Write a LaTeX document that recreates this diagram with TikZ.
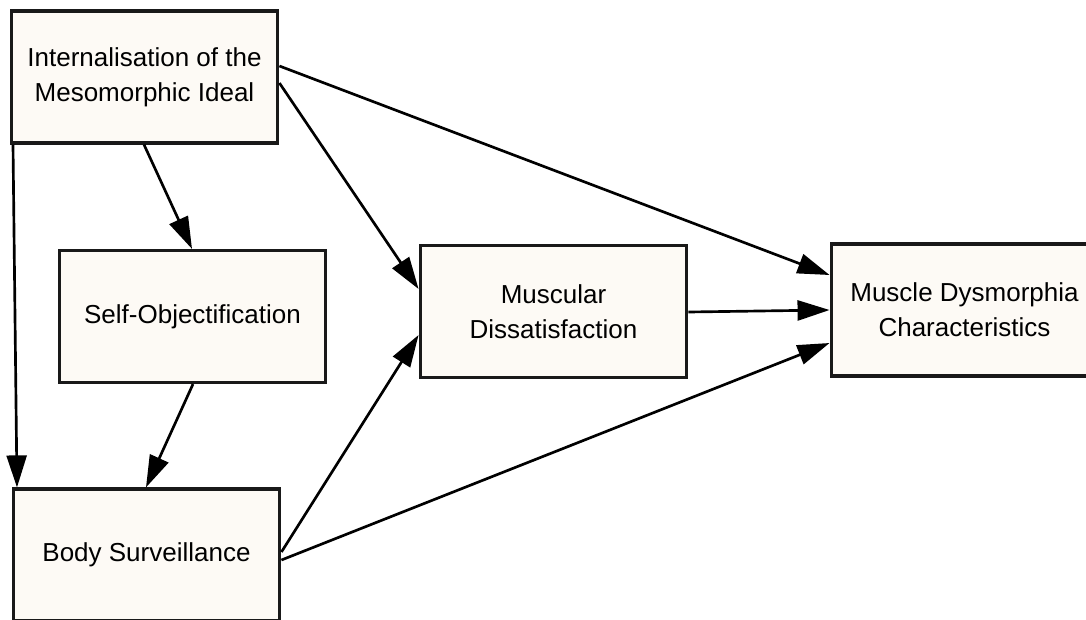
\documentclass[tikz,border=0pt]{standalone}
\usepackage{fontspec}
\setmainfont{Liberation Sans}
\usetikzlibrary{arrows.meta}

\definecolor{boxfill}{RGB}{253,250,245}

\begin{document}
\begin{tikzpicture}[x=0.75pt,y=-0.75pt,
    >={Triangle[length=24pt,width=15pt]},
    box/.style={
      % The shape:
      rectangle,minimum width=200pt,minimum height=99pt,
      % Border and text
      line width=2.4pt,draw=black!90,fill=boxfill,
      align=center,font=\fontsize{19.5}{26.5}\selectfont
      },
    link/.style={->,line width=2pt}]
  \useasboundingbox (0,0) rectangle (1086,619);
  \clip (0,0) rectangle (1086,619);
  \node (ideal) [box] at (144.5,77) {Internalisation of the\\Mesomorphic Ideal};
  \node (self-obj) [box] at (192.5,316.5) {Self-Objectification};
  \node (surveil) [box] at (146.5,555) {Body Surveillance};
  \node (dissat) [box] at (553.5,311.5) {Muscular\\Dissatisfaction};
  \node (dysmorph) [box] at (964.5,310) {Muscle Dysmorphia\\Characteristics};
  \draw [link] (ideal.east |- 0,66) -- (dysmorph.west |- 0,275);
  \draw [link] (ideal.east |- 0,83) -- (dissat.west |- 0,289);
  \draw [link] (ideal.south -| 144,0) -- (self-obj.north -| 192,0);
  \draw [link] (ideal.south -| 13,0) -- (surveil.north -| 17,0);
  \draw [link] (self-obj.south -| 193,0) -- (surveil.north -| 146,0);
  \draw [link] (surveil.east |- 0,552) -- (dissat.west |- 0,335);
  \draw [link] (surveil.east |- 0,560) -- (dysmorph.west |- 0,343);
  \draw [link] (dissat.east |- 0,312) -- (dysmorph.west |- 0,310);
\end{tikzpicture}
\end{document}
